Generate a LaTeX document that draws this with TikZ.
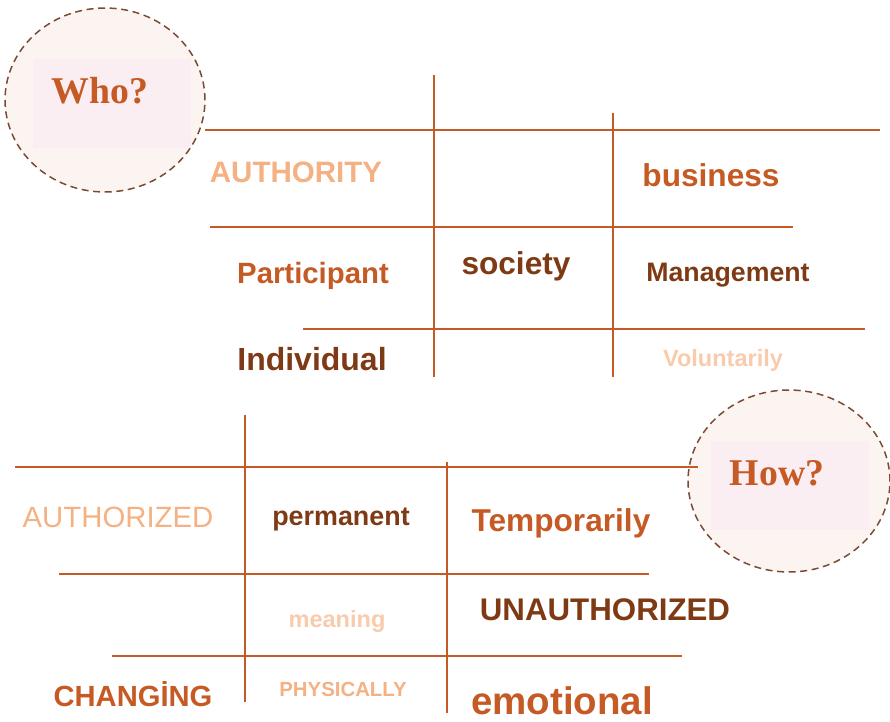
\documentclass[tikz,border=0pt]{standalone}
\usepackage{fontspec}
\setmainfont{Liberation Sans}
\newfontfamily\qfont{Liberation Serif}
\usepackage{xcolor}
\usetikzlibrary{positioning}

\definecolor{rust}{HTML}{C55A24}
\definecolor{umber}{HTML}{7E3A14}
\definecolor{peach}{HTML}{F4B183}
\definecolor{paleP}{HTML}{F8CBAD}
\definecolor{bubble}{HTML}{FCF4F0}
\definecolor{blush}{HTML}{FBEEF2}
\definecolor{rim}{HTML}{7A4A33}

\newcommand{\fsz}[1]{\fontsize{#1}{#1}\selectfont}

\tikzset{
  grid/.style={draw=rust, line width=1.2pt},
  thin grid/.style={draw=rust, line width=0.9pt},
  word/.style={anchor=base, inner sep=0pt, font=\bfseries},
  bubbleline/.style={draw=rim, fill=bubble, line width=0.85pt,
    dash pattern=on 4pt off 2.6pt},
  question/.style={anchor=base, inner sep=0pt, text=rust, font=\qfont\bfseries\fsz{21.5}}
}

\begin{document}
\begin{tikzpicture}[x=0.02cm, y=-0.02cm]
    \useasboundingbox (0,0) rectangle (890,722);

    % Who? bubble
    \draw[bubbleline] (105,100) ellipse [x radius=2cm, y radius=1.84cm];
    \fill[blush] (33,59) rectangle (191,148);
    \node[question] (who) at (100,104) {Who?};

    % upper grid
    \draw[grid] (205,130) -- (880,130);
    \draw[grid] (210,227) -- (793,227);
    \draw[thin grid] (303,329) -- (865,329);
    \draw[grid] (434,75) -- (434,377);
    \draw[grid] (613,113) -- (613,377);

    \node[word, text=peach, font=\bfseries\fsz{16.8}] (authority) at (296,183) {AUTHORITY};
    \node[word, text=rust, font=\bfseries\fsz{16.7}] (participant) at (313,284) {Participant};
    \node[word, text=umber, font=\bfseries\fsz{18.2}] (individual) at (312,371) {Individual};
    \node[word, text=umber, font=\bfseries\fsz{18}] (society) at (516,275) {society};
    \node[word, text=rust, font=\bfseries\fsz{18}] (business) at (711,187) {business};
    \node[word, text=umber, font=\bfseries\fsz{15.2}] (management) at (728,282) {Management};
    \node[word, text=paleP, font=\bfseries\fsz{13.4}] (voluntarily) at (723,367) {Voluntarily};

    % How? bubble
    \draw[bubbleline] (789,481) ellipse [x radius=2.02cm, y radius=1.82cm];
    \fill[blush] (711,441) rectangle (869,530);
    \node[question] (how) at (777,486) {How?};

    % lower grid
    \draw[grid] (15,467) -- (698,467);
    \draw[grid] (59,574) -- (649,574);
    \draw[thin grid] (112,656) -- (682,656);
    \draw[grid] (245,415) -- (245,702);
    \draw[grid] (447,462) -- (447,713);

    \node[word, text=peach, font=\fsz{16.7}] (authorized) at (118,528) {AUTHORIZED};
    \node[word, text=umber, font=\bfseries\fsz{15.3}] (permanent) at (341,526) {permanent};
    \node[word, text=rust, font=\bfseries\fsz{18}] (temporarily) at (561,532) {Temporarily};
    \node[word, text=paleP, font=\bfseries\fsz{13.4}] (meaning) at (337,628) {meaning};
    \node[word, text=umber, font=\bfseries\fsz{17.8}] (unauthorized) at (605,621) {UNAUTHORIZED};
    \node[word, text=rust, font=\bfseries\fsz{16.6}] (changing) at (133,707) {CHANGİNG};
    \node[word, text=peach, font=\bfseries\fsz{11.6}] (physically) at (343,697) {PHYSICALLY};
    \node[word, text=rust, font=\bfseries\fsz{21.9}] (emotional) at (562,715) {emotional};

\end{tikzpicture}
\end{document}
